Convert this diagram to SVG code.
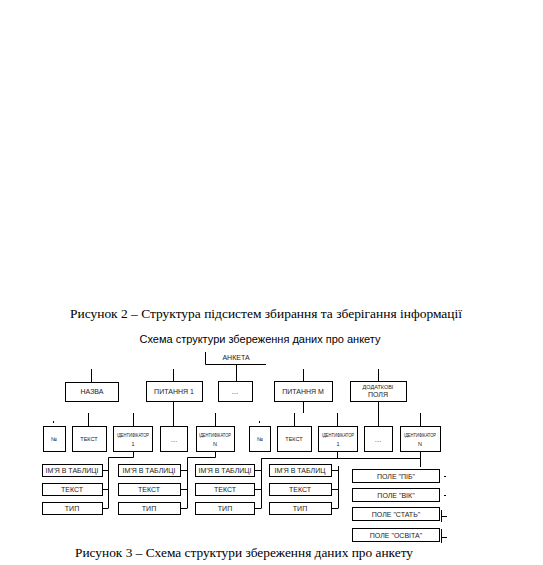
<svg xmlns="http://www.w3.org/2000/svg" width="543" height="565" viewBox="0 0 543 565">
<style>
.b{fill:#fff;stroke:#000;stroke-width:1}
.t{font-family:"Liberation Sans",Arial,sans-serif;font-size:7px;fill:#222;text-anchor:middle}
.s{font-size:5.5px}
.c{font-family:"Liberation Serif","Times New Roman",serif;font-size:12.5px;fill:#000;text-anchor:middle}
.h{font-family:"Liberation Sans",Arial,sans-serif;font-size:11px;fill:#000;text-anchor:middle}
.l{stroke:#000;stroke-width:1;fill:none}
</style>
<rect width="543" height="565" fill="#fff"/>
<text class="c" x="266" y="318" textLength="392" lengthAdjust="spacingAndGlyphs">Рисунок 2 – Структура підсистем збирання та зберігання інформації</text>
<text class="h" x="260" y="343">Схема структури збереження даних про анкету</text>
<g id="connectors">
<path class="l" d="M205.5 352V364.5H266"/>
<path class="l" d="M236.5 364V381M91.5 369V382M173.5 369V381M303.5 369V381M378.5 369V381"/>
<path class="l" d="M173.5 402V426M303.5 401V413M378.5 401V426"/>
<path class="l" d="M88.5 413V426M133.5 413V426M215.5 413V426M294.5 413V426M337.5 413V426M420.5 413V426"/>
<path class="l" d="M53.5 421V423M259.5 421V423"/>
<path class="l" d="M133.5 452V457.5H108.5V508.5M102 470.5H108M102 489.5H108M102 508.5H108"/>
<path class="l" d="M215.5 452V457.5H187.5V508.5M180 470.5H187M180 489.5H187M180 508.5H187"/>
<path class="l" d="M337.5 452V458.5H261.5V508.5M254 470.5H261M254 489.5H261M254 508.5H261"/>
<path class="l" d="M420.5 452V467M261.5 458.5H420.5"/>
<path class="l" d="M338.5 466V508.5M331 470.5H338M331 489.5H338M331 508.5H338"/>
<path class="l" d="M444 476.5H446M444 495.5H446M441.5 510V522M441 516.5H447M441.5 529V543M441 537.5H447"/>
</g>
<g id="anketa"><text class="t" x="236" y="360">АНКЕТА</text></g>
<g id="nazva"><rect class="b" x="65.5" y="382.5" width="53" height="19"/><text class="t" x="92" y="394">НАЗВА</text></g>
<g id="pytannia1"><rect class="b" x="146.5" y="381.5" width="56" height="20"/><text class="t" x="174" y="394">ПИТАННЯ 1</text></g>
<g id="dots1"><rect class="b" x="218.5" y="381.5" width="34" height="20"/><text class="t" x="235" y="394">…</text></g>
<g id="pytanniaM"><rect class="b" x="274.5" y="381.5" width="58" height="20"/><text class="t" x="303" y="394">ПИТАННЯ М</text></g>
<g id="dodatkovi"><rect class="b" x="350.5" y="381.5" width="56" height="20"/><text class="t s" x="378" y="389">ДОДАТКОВІ</text><text class="t" x="378" y="397">ПОЛЯ</text></g>
<g id="p1-num"><rect class="b" x="43.5" y="426.5" width="22" height="25"/><text class="t s" x="54" y="441">№</text></g>
<g id="p1-text"><rect class="b" x="72.5" y="426.5" width="34" height="25"/><text class="t s" x="89" y="441">ТЕКСТ</text></g>
<g id="p1-id1"><rect class="b" x="113.5" y="426.5" width="39" height="25"/><text class="t s" x="133" y="437" textLength="32" lengthAdjust="spacingAndGlyphs">ІДЕНТИФІКАТОР</text><text class="t s" x="133" y="446">1</text></g>
<g id="p1-dots"><rect class="b" x="160.5" y="426.5" width="27" height="25"/><text class="t" x="174" y="442">…</text></g>
<g id="p1-idN"><rect class="b" x="196.5" y="426.5" width="38" height="25"/><text class="t s" x="215" y="437" textLength="32" lengthAdjust="spacingAndGlyphs">ІДЕНТИФІКАТОР</text><text class="t s" x="215" y="446">N</text></g>
<g id="pm-num"><rect class="b" x="249.5" y="426.5" width="21" height="25"/><text class="t s" x="260" y="441">№</text></g>
<g id="pm-text"><rect class="b" x="277.5" y="426.5" width="34" height="25"/><text class="t s" x="294" y="441">ТЕКСТ</text></g>
<g id="pm-id1"><rect class="b" x="318.5" y="426.5" width="39" height="25"/><text class="t s" x="338" y="437" textLength="32" lengthAdjust="spacingAndGlyphs">ІДЕНТИФІКАТОР</text><text class="t s" x="338" y="446">1</text></g>
<g id="pm-dots"><rect class="b" x="364.5" y="426.5" width="28" height="25"/><text class="t" x="378" y="442">…</text></g>
<g id="pm-idN"><rect class="b" x="400.5" y="426.5" width="40" height="25"/><text class="t s" x="420" y="437" textLength="32" lengthAdjust="spacingAndGlyphs">ІДЕНТИФІКАТОР</text><text class="t s" x="420" y="446">N</text></g>
<g id="c1"><rect class="b" x="42.5" y="464.5" width="60" height="12"/><text class="t" x="72" y="473">ІМ'Я В ТАБЛИЦІ</text><rect class="b" x="42.5" y="483.5" width="60" height="12"/><text class="t" x="72" y="492">ТЕКСТ</text><rect class="b" x="42.5" y="502.5" width="60" height="12"/><text class="t" x="72" y="511">ТИП</text></g>
<g id="c2"><rect class="b" x="118.5" y="464.5" width="62" height="12"/><text class="t" x="149" y="473">ІМ'Я В ТАБЛИЦІ</text><rect class="b" x="118.5" y="483.5" width="62" height="12"/><text class="t" x="149" y="492">ТЕКСТ</text><rect class="b" x="118.5" y="502.5" width="62" height="12"/><text class="t" x="149" y="511">ТИП</text></g>
<g id="c3"><rect class="b" x="195.5" y="464.5" width="59" height="12"/><text class="t" x="225" y="473">ІМ'Я В ТАБЛИЦІ</text><rect class="b" x="195.5" y="483.5" width="59" height="12"/><text class="t" x="225" y="492">ТЕКСТ</text><rect class="b" x="195.5" y="502.5" width="59" height="12"/><text class="t" x="225" y="511">ТИП</text></g>
<g id="c4"><rect class="b" x="269.5" y="464.5" width="62" height="12"/><text class="t" x="300" y="473">ІМ'Я В ТАБЛИЦ</text><rect class="b" x="269.5" y="483.5" width="62" height="12"/><text class="t" x="300" y="492">ТЕКСТ</text><rect class="b" x="269.5" y="502.5" width="62" height="12"/><text class="t" x="300" y="511">ТИП</text></g>
<g id="f-pib"><rect class="b" x="352.5" y="469.5" width="87" height="13"/><text class="t" x="396" y="479">ПОЛЕ "ПІБ"</text></g>
<g id="f-vik"><rect class="b" x="352.5" y="488.5" width="87" height="13"/><text class="t" x="396" y="498">ПОЛЕ "ВІК"</text></g>
<g id="f-stat"><rect class="b" x="352.5" y="507.5" width="87" height="13"/><text class="t" x="396" y="517">ПОЛЕ "СТАТЬ"</text></g>
<g id="f-osvita"><rect class="b" x="352.5" y="528.5" width="87" height="13"/><text class="t" x="396" y="538">ПОЛЕ "ОСВІТА"</text></g>
<text class="c" x="244" y="557" textLength="338" lengthAdjust="spacingAndGlyphs">Рисунок 3 – Схема структури збереження даних про анкету</text>
</svg>
